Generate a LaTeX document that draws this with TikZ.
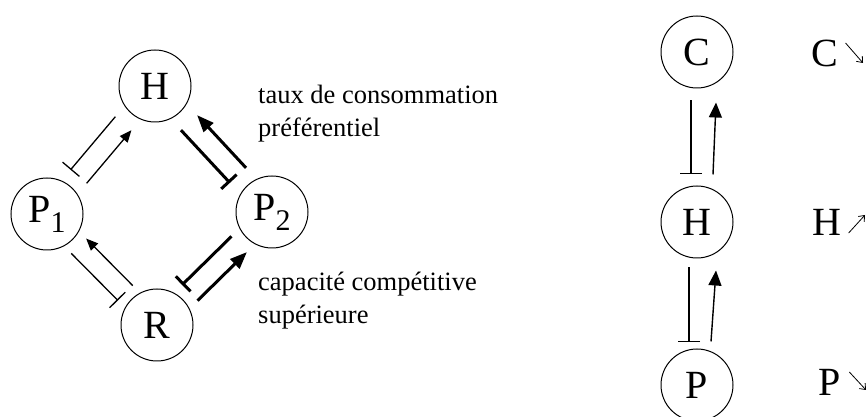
\documentclass[tikz,border=0pt]{standalone}
\usepackage{fontspec}
\setmainfont{Liberation Serif}
\usetikzlibrary{arrows.meta,calc}

\newcommand{\Psub}[1]{P\raisebox{-10pt}{\fontsize{30}{30}\selectfont #1}}

\tikzset{
  species/.style={circle, draw, line width=1pt, minimum size=72pt, inner sep=0pt,
    font=\fontsize{40}{42}\selectfont},
  act/.style={line width=1.3pt, -{Triangle[length=12pt,width=10pt]}},
  inh/.style={line width=1.3pt, -{Bar[width=22pt]}},
  actv/.style={line width=1.4pt, -{Triangle[length=15pt,width=13pt]}},
  actbold/.style={line width=3pt, -{Triangle[length=17pt,width=13pt]}},
  inhbold/.style={line width=3pt, -{Bar[width=21pt]}},
  note/.style={align=left, anchor=west, inner sep=0pt,
    font=\fontsize{26.5}{33}\selectfont},
  trendlab/.style={inner sep=0pt, font=\fontsize{40}{42}\selectfont},
  trend/.style={line width=0.8pt, -{Straight Barb[length=5pt,width=8pt]}}
}

\begin{document}
\begin{tikzpicture}[x=1pt,y=1pt]
\useasboundingbox (0,0) rectangle (867,417);

% diamond: two competitors sharing a resource and a predator
\node[species] (H1) at (155,331) {H};
\node[species] (P1) at (47,203) {\Psub{1}};
\node[species] (P2) at (272,205) {\Psub{2}};
\node[species] (R)  at (157,92)  {R};

% P1 <-> H
\draw[act] ($(P1)!49pt!(H1)!10.5pt!-90:(H1)$) -- ($(H1)!49pt!(P1)!10.5pt!90:(P1)$);
\draw[inh] ($(H1)!49pt!(P1)!10.5pt!-90:(P1)$) -- ($(P1)!49pt!(H1)!10.5pt!90:(H1)$);
% P2 <-> H (preferential consumption)
\draw[actbold] ($(P2)!50pt!(H1)!11pt!-90:(H1)$) -- ($(H1)!50pt!(P2)!11pt!90:(P2)$);
\draw[inhbold] ($(H1)!50pt!(P2)!11pt!-90:(P2)$) -- ($(P2)!50pt!(H1)!11pt!90:(H1)$);
% R <-> P1
\draw[act] ($(R)!45pt!(P1)!10.5pt!-90:(P1)$) -- ($(P1)!45pt!(R)!10.5pt!90:(R)$);
\draw[inh] ($(P1)!45pt!(R)!10.5pt!-90:(R)$) -- ($(R)!45pt!(P1)!10.5pt!90:(P1)$);
% R <-> P2 (superior competitive ability)
\draw[actbold] ($(R)!46pt!(P2)!11pt!-90:(P2)$) -- ($(P2)!46pt!(R)!11pt!90:(R)$);
\draw[inhbold] ($(P2)!46pt!(R)!11pt!-90:(R)$) -- ($(R)!46pt!(P2)!11pt!90:(P2)$);

\node[note] (n1) at (258,303.5) {taux de consommation\\préférentiel};
\node[note] (n2) at (258,116.5) {capacité compétitive\\supérieure};

% trophic chain
\node[species] (C)  at (697,365) {C};
\node[species] (H2) at (697,195) {H};
\node[species] (P)  at (697,32)  {P};

\draw[inh] ([xshift=-6pt,yshift=-12pt]C.south) -- ([xshift=-6pt,yshift=11pt]H2.north);
\draw[actv] ([xshift=16pt,yshift=11pt]H2.north) -- ([xshift=19pt,yshift=-14pt]C.south);
\draw[inh] ([xshift=-8pt,yshift=-9pt]H2.south) -- ([xshift=-8pt,yshift=6pt]P.north);
\draw[actv] ([xshift=14pt,yshift=7pt]P.north) -- ([xshift=19pt,yshift=-12pt]H2.south);

% trends
\node[trendlab] (Ct) at (825,364) {C};
\node[trendlab] (Ht) at (827,195) {H};
\node[trendlab] (Pt) at (830,35)  {P};
\coordinate (Cte) at (863,354);
\coordinate (Hte) at (865,202);
\coordinate (Pte) at (866,27);
\draw[trend] ($(Ct.east)+(7pt,10pt)$) -- (Cte);
\draw[trend] ($(Ht.east)+(7pt,-11pt)$) -- (Hte);
\draw[trend] ($(Pt.east)+(8pt,10pt)$) -- (Pte);
\end{tikzpicture}
\end{document}
